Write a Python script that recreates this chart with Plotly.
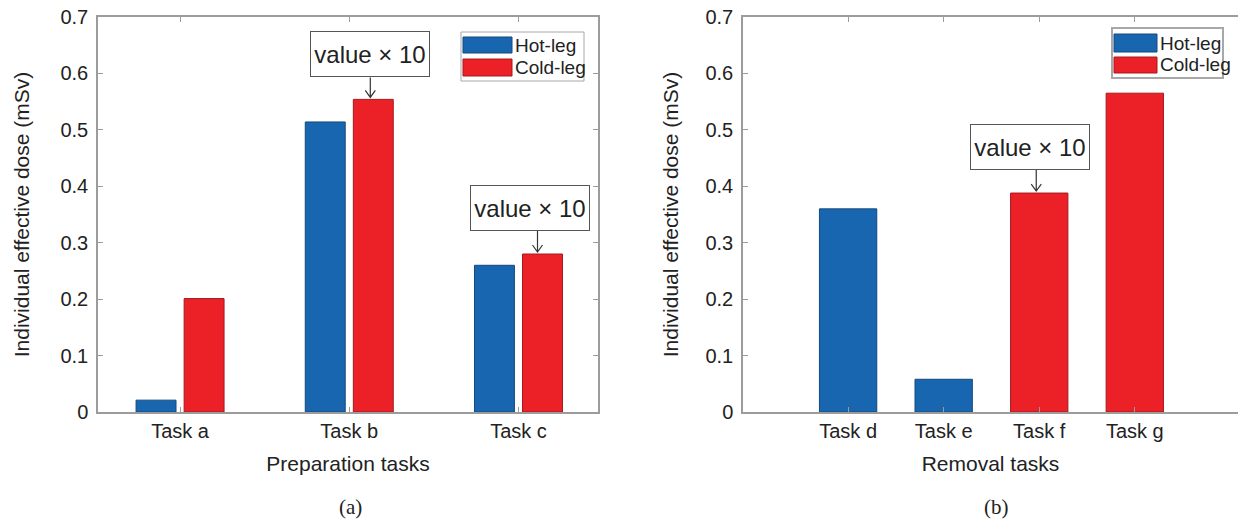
import plotly.graph_objects as go

# ---- data -------------------------------------------------------------
prep_tasks = ["Task a", "Task b", "Task c"]
prep_hot = [0.021, 0.514, 0.260]
prep_cold = [0.201, 0.554, 0.280]

removal_tasks = ["Task d", "Task e", "Task f", "Task g"]
removal_hot_tasks = ["Task d", "Task e"]
removal_hot = [0.360, 0.058]
removal_cold_tasks = ["Task f", "Task g"]
removal_cold = [0.388, 0.565]

series_names = ["Hot-leg", "Cold-leg"]
y_ticks = [0, 0.1, 0.2, 0.3, 0.4, 0.5, 0.6, 0.7]
y_tick_text = ["0", "0.1", "0.2", "0.3", "0.4", "0.5", "0.6", "0.7"]
note_text = "value \u00d7 10"

# ---- style ------------------------------------------------------------
W, H = 1238, 522
BLUE, BLUE_EDGE = "#1866b0", "#13497e"
RED, RED_EDGE = "#ec2027", "#a31a1e"
AXIS = "#9c9c9c"
FONT = "Liberation Sans Narrow, Liberation Sans, Arial, sans-serif"
SERIF = "Liberation Serif, Times New Roman, serif"


def px(x):
    return x / W


def py(y):
    return 1 - y / H


ydom = [py(412), py(17)]
left_dom = [px(98), px(598)]
right_dom = [px(743), 1.0]

fig = go.Figure()

# preparation tasks: grouped bars with explicit offsets
bar_w = 0.236
hot_off, cold_off = -0.26, 0.024
fig.add_trace(go.Bar(x=prep_tasks, y=prep_hot, name=series_names[0],
                     width=bar_w, offset=hot_off,
                     marker=dict(color=BLUE, line=dict(color=BLUE_EDGE, width=1)),
                     xaxis="x", yaxis="y", showlegend=False))
fig.add_trace(go.Bar(x=prep_tasks, y=prep_cold, name=series_names[1],
                     width=bar_w, offset=cold_off,
                     marker=dict(color=RED, line=dict(color=RED_EDGE, width=1)),
                     xaxis="x", yaxis="y", showlegend=False))

# removal tasks: one bar per task
rw = 0.6
fig.add_trace(go.Bar(x=removal_hot_tasks, y=removal_hot, name=series_names[0],
                     width=rw, offset=-rw / 2,
                     marker=dict(color=BLUE, line=dict(color=BLUE_EDGE, width=1)),
                     xaxis="x2", yaxis="y2", showlegend=False))
fig.add_trace(go.Bar(x=removal_cold_tasks, y=removal_cold, name=series_names[1],
                     width=rw, offset=-rw / 2,
                     marker=dict(color=RED, line=dict(color=RED_EDGE, width=1)),
                     xaxis="x2", yaxis="y2", showlegend=False))

tick_font = dict(family=FONT, size=20, color="#222")
title_font = dict(family=FONT, size=21, color="#222")

common_x = dict(showline=True, linecolor=AXIS, linewidth=1.5, ticks="inside",
                ticklen=5, tickcolor=AXIS, tickwidth=1, showgrid=False,
                zeroline=False, tickfont=tick_font, type="category",
                automargin=False, ticklabelstandoff=0)
common_y = dict(showline=True, linecolor=AXIS, linewidth=1.5, ticks="inside",
                ticklen=5, tickcolor=AXIS, tickwidth=1, showgrid=False,
                zeroline=False, tickfont=tick_font, range=[0, 0.7],
                tickvals=y_ticks, ticktext=y_tick_text, domain=ydom,
                ticklabelstandoff=4, automargin=False)

fig.update_layout(
    width=W, height=H,
    margin=dict(l=0, r=0, t=0, b=0, autoexpand=False),
    paper_bgcolor="white", plot_bgcolor="white",
    barmode="overlay",
    showlegend=False,
    xaxis=dict(common_x, domain=left_dom, anchor="y", mirror="ticks",
               categoryorder="array", categoryarray=prep_tasks,
               range=[-0.485, 2.47],
               title=dict(text="Preparation tasks", font=title_font, standoff=16)),
    yaxis=dict(common_y, anchor="x", mirror="ticks",
               title=dict(text="Individual effective dose (mSv)", font=title_font,
                          standoff=25)),
    xaxis2=dict(common_x, domain=right_dom, anchor="y2", mirror="ticks",
                categoryorder="array", categoryarray=removal_tasks,
                range=[-1.1, 4.08],
                title=dict(text="Removal tasks", font=title_font, standoff=16)),
    yaxis2=dict(common_y, anchor="x2", mirror=False,
                title=dict(text="Individual effective dose (mSv)", font=title_font,
                           standoff=21)),
)

shapes = []
annotations = []


def add_note(xref, yref, xval, yval, tip_dx, box_dx, box_dy):
    """Boxed note above a bar with a thin open-headed arrow to its top."""
    annotations.append(dict(
        xref=xref, yref=yref, x=xval, y=yval, text=note_text, showarrow=False,
        xanchor="center", yanchor="middle",
        xshift=box_dx, yshift=box_dy, width=112, height=38,
        bordercolor="#555", borderwidth=1, borderpad=3, bgcolor="white",
        font=dict(family=FONT, size=24, color="#222")))
    stem_top = box_dy - 23
    shapes.append(dict(
        type="path", xref=xref, yref=yref, xsizemode="pixel", ysizemode="pixel",
        xanchor=xval, yanchor=yval,
        path=(f"M{tip_dx},{stem_top} L{tip_dx},2 "
              f"M{tip_dx - 5},9 L{tip_dx},2 L{tip_dx + 5},9"),
        line=dict(color="#333", width=1.2)))


add_note("x", "y", 1 + cold_off + bar_w / 2, prep_cold[1], -3, -3, 45)
add_note("x", "y", 2 + cold_off + bar_w / 2, prep_cold[2], -5, -13, 46)
add_note("x2", "y2", 2, removal_cold[0], -3, -9, 46)


def add_legend(x0, y0, x1, y1, sw_x0, sw_x1, rows, text_x, border_w):
    shapes.append(dict(type="rect", xref="paper", yref="paper",
                       x0=px(x0), x1=px(x1), y0=py(y1), y1=py(y0),
                       line=dict(color="#a8a8a8", width=border_w),
                       fillcolor="white", layer="above"))
    for (ya, yb), name, col, edge in zip(rows, series_names,
                                         [BLUE, RED], [BLUE_EDGE, RED_EDGE]):
        shapes.append(dict(type="rect", xref="paper", yref="paper",
                           x0=px(sw_x0), x1=px(sw_x1), y0=py(yb), y1=py(ya),
                           line=dict(color=edge, width=1), fillcolor=col,
                           layer="above"))
        annotations.append(dict(xref="paper", yref="paper", x=px(text_x),
                                y=py((ya + yb) / 2), text=name, showarrow=False,
                                xanchor="left", yanchor="middle",
                                font=dict(family=FONT, size=19, color="#222")))


add_legend(461, 32, 584, 81, 463, 512, [(37, 53), (59, 76)], 513, 1)
add_legend(1112, 28, 1223, 78, 1114, 1157, [(34, 52), (57, 73)], 1158, 2)

# panel captions
for label, cx in (("(a)", 350), ("(b)", 996)):
    annotations.append(dict(xref="paper", yref="paper", x=px(cx), y=py(507),
                            xanchor="center", yanchor="middle",
                            text=label, showarrow=False,
                            font=dict(family=SERIF, size=21, color="#222")))

fig.update_layout(shapes=shapes, annotations=annotations)
fig.write_html("out.html")
